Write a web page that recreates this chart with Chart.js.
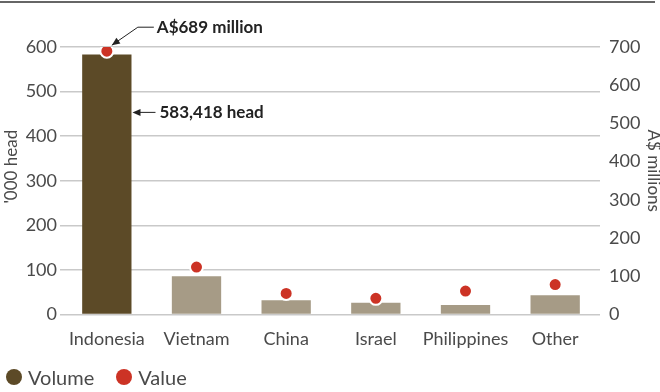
<!DOCTYPE html>
<html>
<head>
<meta charset="utf-8">
<script src="https://cdn.jsdelivr.net/npm/chart.js@4.4.1/dist/chart.umd.min.js"></script>
<style>
  html, body { margin: 0; padding: 0; background: #fff; }
  #wrap { width: 660px; height: 392px; position: relative; }
  #legend { position: absolute; left: 6px; top: 365px; display: flex; font: 20px Lato, "Open Sans", sans-serif; color: #4a4a4a; }
  #legend span { display: flex; align-items: center; margin-right: 22px; }
  #legend i { display: inline-block; width: 16px; height: 16px; border-radius: 50%; margin-right: 6px; }
</style>
</head>
<body>
<div id="wrap">
  <canvas id="exportsChart"></canvas>
  <div id="legend"></div>
</div>
<script>
// Live cattle exports by market
const markets = ["Indonesia", "Vietnam", "China", "Israel", "Philippines", "Other"];
const volumeHead = [583.418, 85.5, 32, 26, 21, 43];   // '000 head
const valueMillions = [689, 124, 55, 42, 61, 78];     // A$ millions
const headTicks = [0, 100, 200, 300, 400, 500, 600];
const valueTicks = [0, 100, 200, 300, 400, 500, 600, 700];

const brown = "#5c4a27";
const lightBrown = "#a69b86";
const red = "#cc3325";
const textGrey = "#4a4a4a";
const font = "Lato, 'Open Sans', sans-serif";

// thin rule across the top of the figure
const topRule = {
  id: "topRule",
  beforeDraw(chart) {
    const ctx = chart.ctx;
    ctx.save();
    ctx.strokeStyle = "#333";
    ctx.lineWidth = 1.5;
    ctx.beginPath();
    ctx.moveTo(0, 2);
    ctx.lineTo(chart.width - 5, 2);
    ctx.stroke();
    ctx.restore();
  }
};

// rotated axis titles, sitting a little above the middle of the plot
const axisTitles = {
  id: "axisTitles",
  afterDraw(chart) {
    const ctx = chart.ctx;
    const mid = (chart.chartArea.top + chart.chartArea.bottom) / 2;
    ctx.save();
    ctx.fillStyle = textGrey;
    ctx.font = "17px " + font;
    ctx.textAlign = "center";
    ctx.textBaseline = "middle";
    ctx.translate(12, mid - 14);
    ctx.rotate(-Math.PI / 2);
    ctx.fillText("'000 head", 0, 0);
    ctx.restore();
    ctx.save();
    ctx.fillStyle = textGrey;
    ctx.font = "17px " + font;
    ctx.textAlign = "center";
    ctx.textBaseline = "middle";
    ctx.translate(chart.width - 7, mid - 10);
    ctx.rotate(Math.PI / 2);
    ctx.fillText("A$ millions", 0, 0);
    ctx.restore();
  }
};

function arrowHead(ctx, fromX, fromY, toX, toY) {
  const ang = Math.atan2(toY - fromY, toX - fromX);
  const len = 8, half = 3.5;
  ctx.beginPath();
  ctx.moveTo(toX, toY);
  ctx.lineTo(toX - len * Math.cos(ang) + half * Math.sin(ang), toY - len * Math.sin(ang) - half * Math.cos(ang));
  ctx.lineTo(toX - len * Math.cos(ang) - half * Math.sin(ang), toY - len * Math.sin(ang) + half * Math.cos(ang));
  ctx.closePath();
  ctx.fill();
}

// callouts for the Indonesia value and volume
const callouts = {
  id: "callouts",
  afterDatasetsDraw(chart) {
    const ctx = chart.ctx;
    const { x, y1 } = chart.scales;
    const bar = chart.getDatasetMeta(0).data[0];
    const dotX = x.getPixelForValue(0);
    const dotY = y1.getPixelForValue(valueMillions[0]);
    ctx.save();
    ctx.strokeStyle = "#222";
    ctx.fillStyle = "#222";
    ctx.lineWidth = 1;
    ctx.font = "bold 17px " + font;
    ctx.textBaseline = "middle";
    ctx.textAlign = "left";

    // value callout
    const tx = dotX + 50, ty = dotY - 24;
    ctx.fillText("A$" + valueMillions[0] + " million", tx, ty);
    ctx.beginPath();
    ctx.moveTo(tx - 3, ty);
    ctx.lineTo(tx - 19, ty);
    ctx.lineTo(dotX + 5, dotY - 6);
    ctx.stroke();
    arrowHead(ctx, tx - 19, ty, dotX + 5, dotY - 6);

    // volume callout
    const barRight = bar.x + bar.width / 2;
    const vy = bar.y + 58;
    ctx.fillText(Math.round(volumeHead[0] * 1000).toLocaleString("en-US") + " head", barRight + 28, vy);
    ctx.beginPath();
    ctx.moveTo(barRight + 24, vy);
    ctx.lineTo(barRight + 3, vy);
    ctx.stroke();
    arrowHead(ctx, barRight + 24, vy, barRight + 1, vy);
    ctx.restore();
  }
};

const chart = new Chart(document.getElementById("exportsChart"), {
  type: "bar",
  data: {
    labels: markets,
    datasets: [{
      label: "Volume",
      data: volumeHead,
      backgroundColor: markets.map((m, i) => i === 0 ? brown : lightBrown),
      categoryPercentage: 1,
      barPercentage: 0.55,
      yAxisID: "y",
      order: 2
    }, {
      type: "line",
      label: "Value",
      data: valueMillions,
      showLine: false,
      pointRadius: 6.5,
      pointBorderWidth: 2,
      pointBackgroundColor: red,
      pointBorderColor: "#fff",
      backgroundColor: red,
      yAxisID: "y1",
      order: 1
    }]
  },
  options: {
    responsive: true,
    maintainAspectRatio: false,
    animation: false,
    layout: { padding: { top: 47, bottom: 28, left: 0, right: 0 } },
    plugins: {
      legend: { display: false },
      tooltip: { enabled: false }
    },
    scales: {
      x: {
        grid: { display: false, drawTicks: false },
        border: { display: false },
        ticks: { color: textGrey, font: { family: font, size: 18 }, padding: 14, maxRotation: 0, autoSkip: false }
      },
      y: {
        position: "left",
        min: 0,
        max: 600,
        afterBuildTicks: (axis) => { axis.ticks = headTicks.map(v => ({ value: v })); },
        afterFit: (axis) => { axis.width = 62; },
        grid: { color: "#c9c9c9", lineWidth: 1.5, tickLength: 2 },
        border: { display: false },
        ticks: { color: textGrey, font: { family: font, size: 18 }, padding: 3 }
      },
      y1: {
        position: "right",
        min: 0,
        max: 700,
        afterBuildTicks: (axis) => { axis.ticks = valueTicks.map(v => ({ value: v })); },
        afterFit: (axis) => { axis.width = 60; },
        grid: { display: false, drawTicks: false },
        border: { display: false },
        ticks: { color: textGrey, font: { family: font, size: 18 }, padding: 9 }
      }
    }
  },
  plugins: [topRule, axisTitles, callouts]
});

// legend built from the datasets
const legend = document.getElementById("legend");
chart.data.datasets.forEach(ds => {
  const colour = Array.isArray(ds.backgroundColor) ? ds.backgroundColor[0] : ds.backgroundColor;
  const item = document.createElement("span");
  item.innerHTML = '<i style="background:' + colour + '"></i>' + ds.label;
  legend.appendChild(item);
});
</script>
</body>
</html>
